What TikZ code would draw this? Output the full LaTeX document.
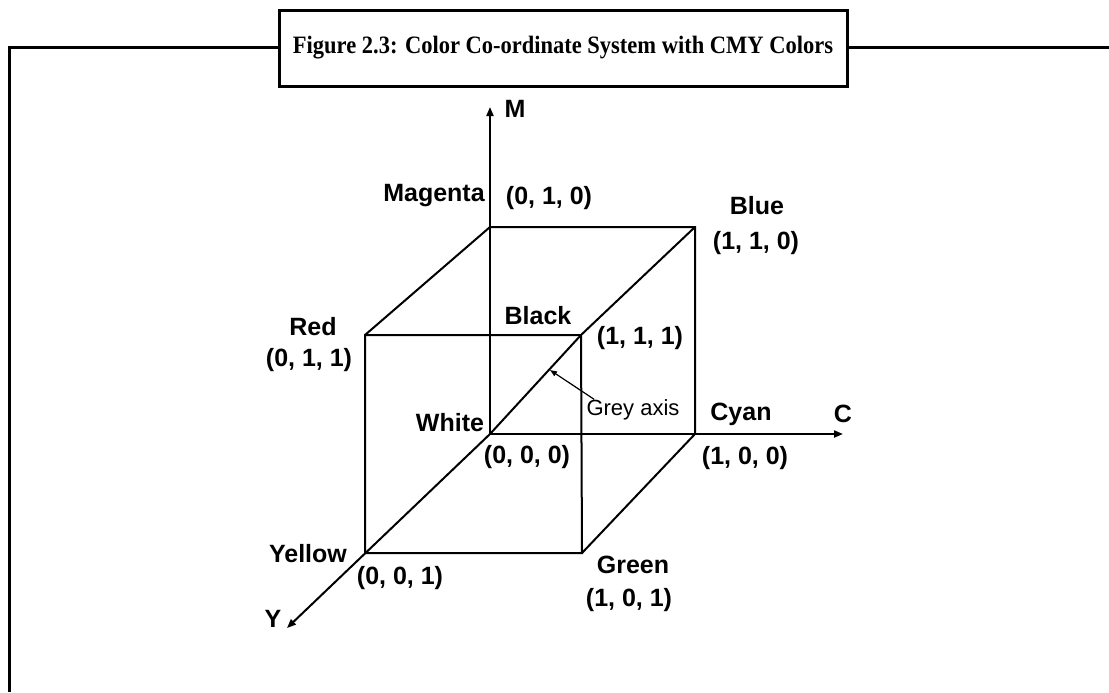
\documentclass[tikz,border=0pt]{standalone}
\usepackage{fontspec}
\setmainfont{Liberation Serif}
\setsansfont{Liberation Sans}
\usetikzlibrary{arrows.meta,positioning}

\begin{document}
\begin{tikzpicture}[
  x=0.5pt, y=-0.5pt,
  every node/.style={font=\sffamily\bfseries\fontsize{12.5}{14}\selectfont,inner sep=0pt},
  frame/.style={line width=1.5pt},
  edge/.style={draw,line width=1pt},
  axis/.style={edge,-{Triangle[length=4.5pt,width=3.5pt]}},
  pointer/.style={draw,line width=0.6pt,-{Triangle[length=3.5pt,width=2.6pt]}},
  note/.style={font=\sffamily\fontsize{11}{13}\selectfont},
  heading/.style={draw,frame,fill=white,minimum width=284pt,minimum height=38pt,
    font=\rmfamily\bfseries\fontsize{12.5}{15}\selectfont},
]
\useasboundingbox (0,0) rectangle (1109,692);
% frame, then title box on top of it
\coordinate (corner) at (9,47);
\coordinate (bottom) at (9,692);
\coordinate (rightend) at (1109,47);
\draw[frame] (bottom) -- (corner) -- (rightend);
\node[heading] (title) at (563,48) {\scalebox{0.9}[1]{Figure 2.3: Color Co-ordinate System with CMY Colors}};

% cube corners
\coordinate (white) at (490,434);
\coordinate (magenta) at (490,227);
\coordinate (blue) at (695,227);
\coordinate (cyan) at (695,434);
\coordinate (red) at (365,335);
\coordinate (black) at (581,335);
\coordinate (green) at (582,553);
\coordinate (yellow) at (365,553);
\coordinate (mtip) at (490,107);
\coordinate (ctip) at (843,434);
\coordinate (ytip) at (287,628);
\coordinate (greytip) at (550,370);

% axes
\draw[axis] (white) -- (mtip);
\draw[axis] (white) -- (ctip);
\draw[axis] (white) -- (ytip);

% edges
\draw[edge] (red) -- (black) -- (green) -- (yellow) -- cycle;
\draw[edge] (red) -- (magenta) -- (blue) -- (cyan) -- (green);
\draw[edge] (white) -- (black) -- (blue);

% labels
\node (mlbl) at (515,109) {M};
\node (clbl) at (843,414) {C};
\node (ylbl) at (273,619) {Y};
\node (magentalbl) at (434,196) {Magenta};
\node (magentaxyz) at (549,198) {(0, 1, 0)};
\node (bluelbl) at (757,206) {Blue};
\node (bluexyz) at (756,243) {(1, 1, 0)};
\node (redlbl) at (313,327) {Red};
\node (redxyz) at (309,360) {(0, 1, 1)};
\node (blacklbl) at (538,316) {Black};
\node (blackxyz) at (640,338) {(1, 1, 1)};
\node (whitelbl) at (450,423) {White};
\node (whitexyz) at (527,457) {(0, 0, 0)};
\node (cyanlbl) at (741,414) {Cyan};
\node (cyanxyz) at (745,458) {(1, 0, 0)};
\node (greenlbl) at (633,565) {Green};
\node (greenxyz) at (629,600) {(1, 0, 1)};
\node (yellowlbl) at (308,554) {Yellow};
\node (yellowxyz) at (400,578) {(0, 0, 1)};

% grey axis
\node[note] (grey) at (633,410) {Grey axis};
\draw[pointer] ([xshift=4pt]grey.north west) -- (greytip);
\end{tikzpicture}
\end{document}
